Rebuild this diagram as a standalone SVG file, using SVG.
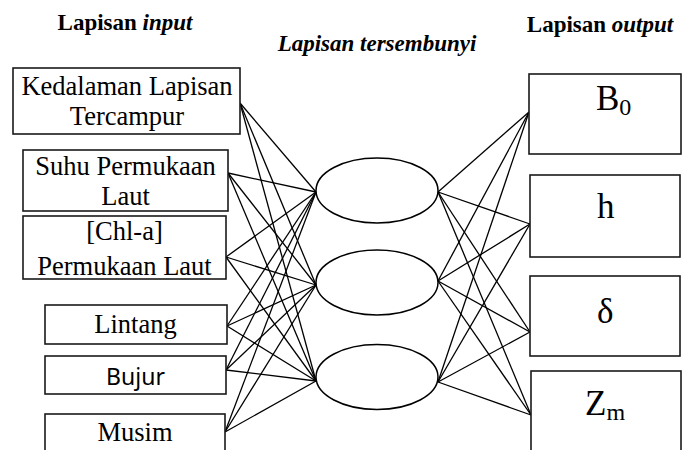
<svg xmlns="http://www.w3.org/2000/svg" width="685" height="450" viewBox="0 0 685 450">
  <style>
    .box { fill: #fff; stroke: #1a1a1a; stroke-width: 1.6; }
    .node { fill: #fff; stroke: #000; stroke-width: 1.5; }
    .link { stroke: #000; stroke-width: 1.3; fill: none; }
    .title { font-family: "Liberation Serif", "Times New Roman", serif; font-weight: bold; font-size: 23px; fill: #000; }
    .lbl { font-family: "Liberation Serif", "Times New Roman", serif; font-size: 26.5px; fill: #000; text-anchor: middle; }
    .sans { font-family: "Noto Sans", "Liberation Sans", sans-serif; font-size: 23px; fill: #000; text-anchor: middle; }
    .sym { font-family: "Liberation Serif", "Times New Roman", serif; font-size: 35px; fill: #000; }
    .sub { font-family: "Liberation Serif", "Times New Roman", serif; font-size: 24px; fill: #000; }
  </style>
  <rect width="685" height="450" fill="#fff"/>

  <!-- layer headings -->
  <g id="headings">
    <text class="title" x="125" y="30" text-anchor="middle">Lapisan <tspan font-style="italic">input</tspan></text>
    <text class="title" x="377" y="51" text-anchor="middle" font-style="italic">Lapisan tersembunyi</text>
    <text class="title" x="600" y="32" text-anchor="middle">Lapisan <tspan font-style="italic">output</tspan></text>
  </g>

  <!-- weights: every input to every hidden unit, every hidden unit to every output -->
  <g id="connectors" class="link">
    <!-- input 1 -->
    <line x1="240" y1="103" x2="316" y2="192"/>
    <line x1="240" y1="103" x2="316" y2="285"/>
    <line x1="240" y1="103" x2="316" y2="381"/>
    <!-- input 2 -->
    <line x1="228" y1="173" x2="316" y2="192"/>
    <line x1="228" y1="173" x2="316" y2="285"/>
    <line x1="228" y1="173" x2="316" y2="381"/>
    <!-- input 3 -->
    <line x1="226" y1="257" x2="316" y2="192"/>
    <line x1="226" y1="257" x2="316" y2="285"/>
    <line x1="226" y1="257" x2="316" y2="381"/>
    <!-- input 4 -->
    <line x1="227" y1="326" x2="316" y2="192"/>
    <line x1="227" y1="326" x2="316" y2="285"/>
    <line x1="227" y1="326" x2="316" y2="381"/>
    <!-- input 5 -->
    <line x1="226" y1="370" x2="316" y2="192"/>
    <line x1="226" y1="370" x2="316" y2="285"/>
    <line x1="226" y1="370" x2="316" y2="381"/>
    <!-- input 6 -->
    <line x1="225" y1="432" x2="316" y2="192"/>
    <line x1="225" y1="432" x2="316" y2="285"/>
    <line x1="225" y1="432" x2="316" y2="381"/>
    <!-- hidden 1 -->
    <line x1="438" y1="192" x2="529" y2="112"/>
    <line x1="438" y1="192" x2="530" y2="224"/>
    <line x1="438" y1="192" x2="530" y2="332"/>
    <line x1="438" y1="192" x2="531" y2="415"/>
    <!-- hidden 2 -->
    <line x1="438" y1="281" x2="529" y2="112"/>
    <line x1="438" y1="281" x2="530" y2="224"/>
    <line x1="438" y1="281" x2="530" y2="332"/>
    <line x1="438" y1="281" x2="531" y2="415"/>
    <!-- hidden 3 -->
    <line x1="438" y1="382" x2="529" y2="112"/>
    <line x1="438" y1="382" x2="530" y2="224"/>
    <line x1="438" y1="382" x2="530" y2="332"/>
    <line x1="438" y1="382" x2="531" y2="415"/>
  </g>

  <!-- input layer -->
  <g id="in-kedalaman">
    <rect class="box" x="13" y="68" width="227" height="66"/>
    <text class="lbl" x="127" y="95">Kedalaman Lapisan</text>
    <text class="lbl" x="127" y="125">Tercampur</text>
  </g>
  <g id="in-suhu">
    <rect class="box" x="23" y="150" width="205" height="61"/>
    <text class="lbl" x="125.5" y="175">Suhu Permukaan</text>
    <text class="lbl" x="125.5" y="205">Laut</text>
  </g>
  <g id="in-chla">
    <rect class="box" x="23" y="216" width="203" height="63"/>
    <text class="lbl" x="124.5" y="240">[Chl-a]</text>
    <text class="lbl" x="124.5" y="275">Permukaan Laut</text>
  </g>
  <g id="in-lintang">
    <rect class="box" x="45" y="305" width="182" height="39"/>
    <text class="lbl" x="135.5" y="333" font-size="28">Lintang</text>
  </g>
  <g id="in-bujur">
    <rect class="box" x="45" y="356" width="181" height="38"/>
    <text class="sans" x="135.5" y="385">Bujur</text>
  </g>
  <g id="in-musim">
    <rect class="box" x="45" y="414" width="180" height="50"/>
    <text class="lbl" x="135" y="441" font-size="28">Musim</text>
  </g>

  <!-- hidden layer -->
  <g id="hidden-1"><ellipse class="node" cx="377" cy="190.5" rx="61" ry="32.5"/></g>
  <g id="hidden-2"><ellipse class="node" cx="377" cy="282.5" rx="61" ry="32.5"/></g>
  <g id="hidden-3"><ellipse class="node" cx="377" cy="377" rx="61" ry="32.5"/></g>

  <!-- output layer -->
  <g id="out-b0">
    <rect class="box" x="529" y="74" width="152" height="80"/>
    <text class="sym" x="596" y="110">B<tspan class="sub" dy="5">0</tspan></text>
  </g>
  <g id="out-h">
    <rect class="box" x="530" y="175" width="150" height="82"/>
    <text class="sym" x="597" y="218">h</text>
  </g>
  <g id="out-delta">
    <rect class="box" x="530" y="276" width="150" height="80"/>
    <text class="sym" x="597" y="323">δ</text>
  </g>
  <g id="out-zm">
    <rect class="box" x="531" y="371" width="150" height="95"/>
    <text class="sym" x="585" y="415">Z<tspan class="sub" dy="5">m</tspan></text>
  </g>
</svg>
